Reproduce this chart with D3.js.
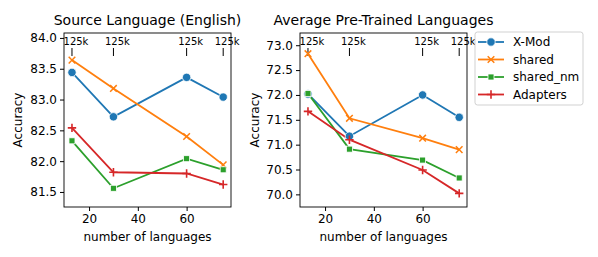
<!DOCTYPE html>
<html>
<head>
<meta charset="utf-8">
<script src="https://d3js.org/d3.v7.min.js"></script>
<style>
  body { margin: 0; background: #fff; }
  text { font-family: "DejaVu Sans", sans-serif; fill: #000; }
</style>
</head>
<body>
<svg id="chart" width="598" height="257"></svg>
<script>
// data
var nLangs = [13, 30, 60, 75];
var seriesNames = ["X-Mod", "shared", "shared_nm", "Adapters"];
var annotLabels = ["125k", "125k", "125k", "125k"];

// Source Language (English)
var srcXMod     = [83.44, 82.72, 83.36, 83.04];
var srcShared   = [83.64, 83.18, 82.40, 81.94];
var srcSharedNm = [82.33, 81.56, 82.04, 81.86];
var srcAdapters = [82.54, 81.82, 81.80, 81.62];

// Average Pre-Trained Languages
var ptXMod     = [72.02, 71.17, 72.00, 71.55];
var ptShared   = [72.83, 71.53, 71.13, 70.90];
var ptSharedNm = [72.03, 70.91, 70.69, 70.33];
var ptAdapters = [71.67, 71.10, 70.49, 70.02];

var srcYTicks = [81.5, 82.0, 82.5, 83.0, 83.5, 84.0];
var ptYTicks  = [70.0, 70.5, 71.0, 71.5, 72.0, 72.5, 73.0];
var xTicks = [20, 40, 60];

var colors = ["#1f77b4", "#ff7f0e", "#2ca02c", "#d62728"];
var markers = ["circle", "x", "square", "plus"];

var svg = d3.select("#chart");

function drawMarker(g, kind, cx, cy, color) {
  if (kind === "circle") {
    g.append("circle").attr("cx", cx).attr("cy", cy).attr("r", 4.2)
      .attr("fill", color).attr("stroke", "#fff").attr("stroke-width", 0.8);
  } else if (kind === "square") {
    g.append("rect").attr("x", cx - 3).attr("y", cy - 3).attr("width", 6).attr("height", 6)
      .attr("fill", color).attr("stroke", "#fff").attr("stroke-width", 0.8);
  } else if (kind === "x") {
    var s = 3.3;
    g.append("path").attr("d", "M" + (cx - s) + "," + (cy - s) + "L" + (cx + s) + "," + (cy + s) +
        "M" + (cx - s) + "," + (cy + s) + "L" + (cx + s) + "," + (cy - s))
      .attr("stroke", color).attr("stroke-width", 1.5);
  } else {
    var p = 4.2;
    g.append("path").attr("d", "M" + (cx - p) + "," + cy + "L" + (cx + p) + "," + cy +
        "M" + cx + "," + (cy - p) + "L" + cx + "," + (cy + p))
      .attr("stroke", color).attr("stroke-width", 1.6);
  }
}

function panel(opts) {
  var x = d3.scaleLinear().domain([9.73, 78.2]).range([opts.left, opts.right]);
  var y = d3.scaleLinear().domain(opts.ydom).range([207, 33]);
  var g = svg.append("g");

  g.append("g").attr("transform", "translate(0,207)")
    .call(d3.axisBottom(x).tickValues(xTicks).tickSize(4).tickPadding(3))
    .call(function(a) { a.select(".domain").remove(); a.selectAll("text").attr("font-size", 12); });
  g.append("g").attr("transform", "translate(" + opts.left + ",0)")
    .call(d3.axisLeft(y).tickValues(opts.yticks).tickFormat(d3.format(".1f")).tickSize(4).tickPadding(3))
    .call(function(a) { a.select(".domain").remove(); a.selectAll("text").attr("font-size", 12); });

  g.append("rect").attr("x", opts.left).attr("y", 33)
    .attr("width", opts.right - opts.left).attr("height", 174)
    .attr("fill", "none").attr("stroke", "#000").attr("stroke-width", 0.9);

  // 125k annotations
  nLangs.forEach(function(n, i) {
    g.append("line").attr("x1", x(n)).attr("x2", x(n)).attr("y1", 48).attr("y2", 56)
      .attr("stroke", "#000").attr("stroke-width", 1);
    g.append("text").attr("x", x(n) + 4).attr("y", 44.5).attr("text-anchor", "middle")
      .attr("font-size", 10).text(annotLabels[i]);
  });

  var line = d3.line().x(function(d, i) { return x(nLangs[i]); }).y(function(d) { return y(d); });
  opts.series.forEach(function(vals, k) {
    g.append("path").attr("d", line(vals)).attr("fill", "none")
      .attr("stroke", colors[k]).attr("stroke-width", 1.8);
  });
  opts.series.forEach(function(vals, k) {
    vals.forEach(function(v, i) { drawMarker(g, markers[k], x(nLangs[i]), y(v), colors[k]); });
  });

  g.append("text").attr("x", (opts.left + opts.right) / 2).attr("y", 25)
    .attr("text-anchor", "middle").attr("font-size", 14).text(opts.title);
  g.append("text").attr("x", (opts.left + opts.right) / 2).attr("y", 241)
    .attr("text-anchor", "middle").attr("font-size", 12).text("number of languages");
  g.append("text").attr("transform", "translate(" + opts.ylabX + ",120) rotate(-90)")
    .attr("text-anchor", "middle").attr("font-size", 12).text("Accuracy");
}

panel({ left: 64, right: 231, ydom: [81.256, 84.08], yticks: srcYTicks, ylabX: 22,
  title: "Source Language (English)", series: [srcXMod, srcShared, srcSharedNm, srcAdapters] });
panel({ left: 300, right: 467, ydom: [69.746, 73.246], yticks: ptYTicks, ylabX: 259,
  title: "Average Pre-Trained Languages", series: [ptXMod, ptShared, ptSharedNm, ptAdapters] });

// legend
var leg = svg.append("g");
leg.append("rect").attr("x", 475).attr("y", 32).attr("width", 108).attr("height", 73).attr("rx", 2.5)
  .attr("fill", "#fff").attr("stroke", "#ccc").attr("stroke-width", 0.9);
seriesNames.forEach(function(name, k) {
  var yy = 42 + k * 17.5;
  leg.append("line").attr("x1", 478).attr("x2", 504).attr("y1", yy).attr("y2", yy)
    .attr("stroke", colors[k]).attr("stroke-width", 1.8);
  drawMarker(leg, markers[k], 491, yy, colors[k]);
  leg.append("text").attr("x", 513).attr("y", yy + 4.3).attr("font-size", 12).text(name);
});
</script>
</body>
</html>
